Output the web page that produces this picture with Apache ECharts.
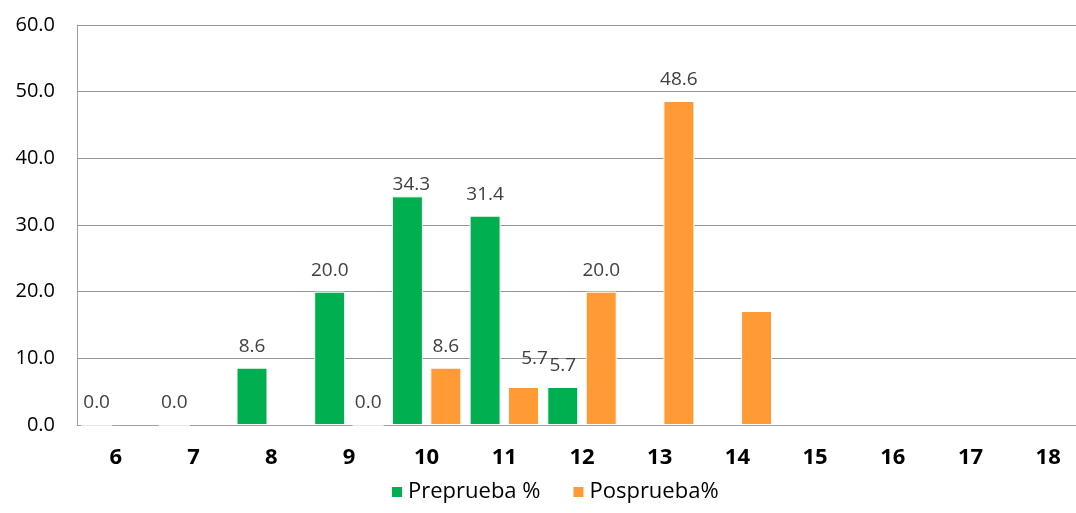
<!DOCTYPE html>
<html>
<head>
<meta charset="utf-8">
<script src="https://cdn.jsdelivr.net/npm/echarts@6/dist/echarts.min.js"></script>
<style>
  html, body { margin: 0; padding: 0; background: #fff; }
  #chart { width: 1076px; height: 513px; }
</style>
</head>
<body>
<div id="chart"></div>
<script>
// datos
const categories = ['6', '7', '8', '9', '10', '11', '12', '13', '14', '15', '16', '17', '18'];
const preprueba = [0.0, 0.0, 8.6, 20.0, 34.3, 31.4, 5.7, null, null, null, null, null, null];
const posprueba = [null, null, null, 0.0, 8.6, 5.7, 20.0, 48.6, 17.1, null, null, null, null];
const yTicks = [0, 10, 20, 30, 40, 50, 60];

const font = '"Open Sans", "Noto Sans", sans-serif';

// etiquetas movidas a mano en el original
const labelTweaks = {
  pre: { 4: { offset: [4, 10] } },
  pos: { 5: { offset: [11, -7] }, 8: { show: false } }
};

const toItems = (values, tweaks) =>
  values.map((v, i) => {
    if (v === null) return '-';
    const t = tweaks[i];
    return t ? { value: v, label: t } : v;
  });

const baseLabel = {
  show: true,
  position: 'top',
  distance: 12,
  fontFamily: font,
  fontSize: 19,
  color: '#404040',
  formatter: p => Number(p.value).toFixed(1)
};

const chart = echarts.init(document.getElementById('chart'));

chart.setOption({
  animation: false,
  // el area del grafico original sigue mas alla del borde derecho
  grid: { left: 77, width: 1010, top: 25, bottom: 88, containLabel: false, outerBoundsMode: 'none' },
  legend: {
    bottom: 5,
    left: 385,
    icon: 'rect',
    itemWidth: 12,
    itemHeight: 12,
    itemGap: 31,
    textStyle: { fontFamily: font, fontSize: 22, color: '#000' },
    data: ['Preprueba %', 'Posprueba%']
  },
  xAxis: {
    type: 'category',
    data: categories,
    axisTick: { show: false },
    axisLine: { lineStyle: { color: '#a0a0a0', width: 1 } },
    axisLabel: { margin: 22, fontFamily: font, fontSize: 22, fontWeight: 'bold', color: '#000' }
  },
  yAxis: {
    type: 'value',
    min: yTicks[0],
    max: yTicks[yTicks.length - 1],
    interval: 10,
    axisLine: { show: true, lineStyle: { color: '#a0a0a0', width: 1 } },
    axisTick: { show: false },
    axisLabel: {
      margin: 22,
      fontFamily: font,
      fontSize: 20,
      color: '#000',
      formatter: v => v.toFixed(1)
    },
    splitLine: { lineStyle: { color: '#959595', width: 1 } }
  },
  series: [
    {
      name: 'Preprueba %',
      type: 'bar',
      barWidth: 31,
      barGap: '24%',
      itemStyle: { color: '#00B050', borderColor: '#fff', borderWidth: 1 },
      label: baseLabel,
      data: toItems(preprueba, labelTweaks.pre)
    },
    {
      name: 'Posprueba%',
      type: 'bar',
      barWidth: 31,
      itemStyle: { color: '#FF9A35', borderColor: '#fff', borderWidth: 1 },
      label: baseLabel,
      data: toItems(posprueba, labelTweaks.pos)
    }
  ]
});

window.addEventListener('resize', () => chart.resize());
</script>
</body>
</html>
